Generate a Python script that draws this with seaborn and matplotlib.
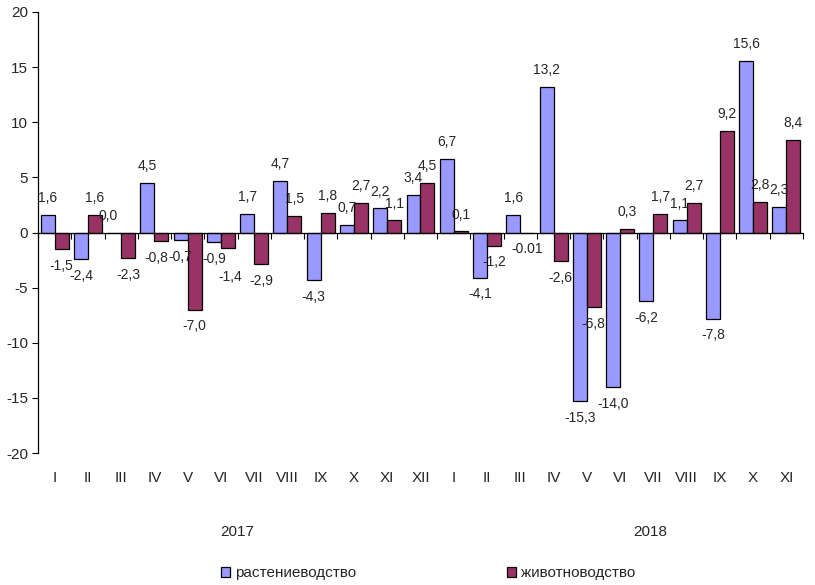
import matplotlib
matplotlib.use("Agg")
import matplotlib.pyplot as plt
import matplotlib.transforms as mtransforms
import seaborn as sns
import pandas as pd

months = ["I", "II", "III", "IV", "V", "VI", "VII", "VIII", "IX", "X", "XI", "XII",
          "I", "II", "III", "IV", "V", "VI", "VII", "VIII", "IX", "X", "XI"]
years = ["2017"] * 12 + ["2018"] * 11
series_names = ["растениеводство", "животноводство"]

plant = [1.6, -2.4, 0.0, 4.5, -0.7, -0.9, 1.7, 4.7, -4.3, 0.7, 2.2, 3.4,
         6.7, -4.1, 1.6, 13.2, -15.3, -14.0, -6.2, 1.1, -7.8, 15.6, 2.3]
animal = [-1.5, 1.6, -2.3, -0.8, -7.0, -1.4, -2.9, 1.5, 1.8, 2.7, 1.1, 4.5,
          0.1, -1.2, -0.01, -2.6, -6.8, 0.3, 1.7, 2.7, 9.2, 2.8, 8.4]

plant_labels = ["1,6", "-2,4", "0,0", "4,5", "-0,7", "-0,9", "1,7", "4,7", "-4,3", "0,7", "2,2", "3,4",
                "6,7", "-4,1", "1,6", "13,2", "-15,3", "-14,0", "-6,2", "1,1", "-7,8", "15,6", "2,3"]
animal_labels = ["-1,5", "1,6", "-2,3", "-0,8", "-7,0", "-1,4", "-2,9", "1,5", "1,8", "2,7", "1,1", "4,5",
                 "0,1", "-1,2", "-0.01", "-2,6", "-6,8", "0,3", "1,7", "2,7", "9,2", "2,8", "8,4"]

colors = ["#9999FF", "#993366"]

keys = [f"{y}-{m}" for y, m in zip(years, months)]
df = pd.DataFrame({
    "key": keys * 2,
    "value": plant + animal,
    "series": [series_names[0]] * len(keys) + [series_names[1]] * len(keys),
})

sns.set_style("white")
plt.rcParams["font.family"] = ["Liberation Sans", "DejaVu Sans"]
plt.rcParams["axes.unicode_minus"] = False

fig = plt.figure(figsize=(8.15, 5.85), dpi=100)
ax = fig.add_axes([0.0466, 0.2256, 0.9387, 0.7539])

sns.barplot(data=df, x="key", y="value", hue="series", order=keys,
            hue_order=series_names, palette=colors, saturation=1, width=0.84, gap=0,
            edgecolor="black", linewidth=0.9, ax=ax, legend=True)

pad = 7
all_anns = []
for cont, labs in zip(ax.containers, [plant_labels, animal_labels]):
    all_anns.append(ax.bar_label(cont, labels=labs, padding=pad, fontsize=10))

# small nudges (points) so neighbouring labels don't collide, like in the original
nudges = {(0, 2): (-4, 0), (1, 3): (-4, 0), (1, 5): (2, -9)}
for (s, i), (dx, dy) in nudges.items():
    ann = all_anns[s][i]
    x0, y0 = ann.xyann
    ann.xyann = (x0 + dx, y0 + dy)

ax.set_ylim(-20, 20)
ax.set_yticks(range(-20, 21, 5))
ax.set_xlim(-0.5, len(keys) - 0.5)
ax.set_xlabel("")
ax.set_ylabel("")

# x axis line sits at zero, ticks at category boundaries
ax.spines["top"].set_visible(False)
ax.spines["right"].set_visible(False)
ax.spines["bottom"].set_position(("data", 0))
ax.spines["left"].set_color("black")
ax.spines["bottom"].set_color("black")
ax.spines["left"].set_linewidth(0.9)
ax.spines["bottom"].set_linewidth(0.9)
ax.set_xticks([i - 0.5 for i in range(len(keys) + 1)])
ax.set_xticklabels([])
ax.tick_params(axis="x", direction="out", length=4, width=0.8, color="black", bottom=True)
ax.tick_params(axis="y", direction="out", length=4, width=0.8, color="black", left=True,
               labelsize=11, pad=3)

trans = mtransforms.blended_transform_factory(ax.transData, ax.transAxes)
for i, m in enumerate(months):
    ax.text(i, -0.057, m, transform=trans, ha="center", va="center", fontsize=11)
ax.text(5.5, -0.18, "2017", transform=trans, ha="center", va="center", fontsize=11)
ax.text(17.9, -0.18, "2018", transform=trans, ha="center", va="center", fontsize=11)

handles, labels = ax.get_legend_handles_labels()
ax.get_legend().remove()
fig.legend(handles, labels, loc="center", bbox_to_anchor=(0.525, 0.02), ncol=2,
           frameon=False, fontsize=11, handlelength=0.6, handleheight=0.6,
           handletextpad=0.3, columnspacing=9.9)

fig.savefig("out.png", dpi=100)
